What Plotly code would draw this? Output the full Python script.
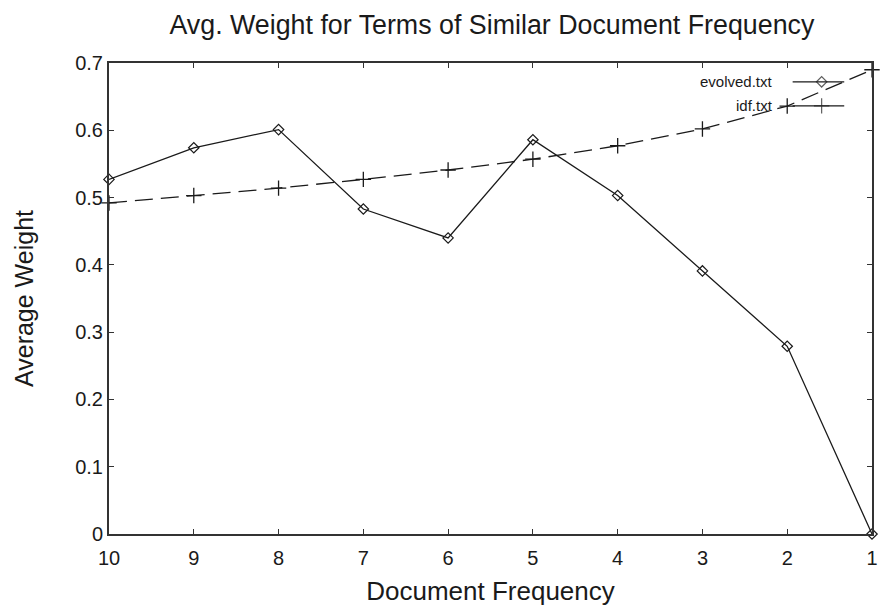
import plotly.graph_objects as go

doc_freq = [10, 9, 8, 7, 6, 5, 4, 3, 2, 1]
evolved = [0.527, 0.574, 0.601, 0.483, 0.440, 0.586, 0.503, 0.391, 0.279, 0.0]
idf = [0.492, 0.503, 0.514, 0.527, 0.541, 0.557, 0.577, 0.602, 0.636, 0.690]
x_ticks = [10, 9, 8, 7, 6, 5, 4, 3, 2, 1]
y_ticks = [0, 0.1, 0.2, 0.3, 0.4, 0.5, 0.6, 0.7]
series_names = ["evolved.txt", "idf.txt"]

FONT = "Liberation Sans, Arial, sans-serif"
INK = "#1a1a1a"

fig = go.Figure()
fig.add_trace(go.Scatter(
    x=doc_freq, y=evolved, name=series_names[0], mode="lines+markers",
    line=dict(color=INK, width=1.3),
    marker=dict(symbol="diamond-open", size=8, color=INK, line=dict(width=1.2)),
    cliponaxis=False, showlegend=False))
fig.add_trace(go.Scatter(
    x=doc_freq, y=idf, name=series_names[1], mode="lines+markers",
    line=dict(color=INK, width=1.3, dash="18px,8px"),
    marker=dict(symbol="cross-thin-open", size=11, color=INK, line=dict(width=1.3, color=INK)),
    cliponaxis=False, showlegend=False))

# custom legend (gnuplot style: text, then sample line with marker)
leg_y = [0.96, 0.909]
for i, (nm, sym, sz) in enumerate([(series_names[0], "diamond-open", 8),
                                     (series_names[1], "cross-thin-open", 11)]):
    fig.add_trace(go.Scatter(
        x=[0.896, 0.934, 0.9636], y=[leg_y[i]] * 3, xaxis="x2", yaxis="y2",
        mode="lines+markers", line=dict(color=INK, width=1.3),
        marker=dict(symbol=sym, size=[0, sz, 0], color=INK, line=dict(width=1.2, color=INK)),
        showlegend=False, hoverinfo="skip", cliponaxis=False))
    fig.add_annotation(x=0.8735, y=leg_y[i], xref="x2", yref="y2", text=nm,
                       showarrow=False, xanchor="right", yanchor="middle",
                       font=dict(family=FONT, size=15, color=INK))

axis_common = dict(showline=True, linecolor="#333333", linewidth=2, mirror="allticks",
                   ticks="inside", ticklen=5, tickcolor="#333333", tickwidth=1.2,
                   showgrid=False, zeroline=False, ticklabeloverflow="allow",
                   automargin=False,
                   tickfont=dict(family=FONT, size=20, color=INK))

fig.update_layout(
    width=880, height=607, paper_bgcolor="white", plot_bgcolor="white",
    margin=dict(l=109, r=8, t=63, b=73),
    title=dict(text="Avg. Weight for Terms of Similar Document Frequency",
               x=0.559, xanchor="center", y=0.959, yanchor="middle",
               font=dict(family=FONT, size=26.8, color=INK)),
    xaxis=dict(range=[10, 1], tickvals=x_ticks, ticktext=[str(v) for v in x_ticks],
               ticklabelstandoff=5,
               title=dict(text="Document Frequency", standoff=14,
                          font=dict(family=FONT, size=26, color=INK)),
               **axis_common),
    yaxis=dict(range=[0, 0.7], tickvals=y_ticks, ticktext=[("0" if v == 0 else f"{v:.1f}") for v in y_ticks],
               title=dict(text="Average Weight", standoff=34,
                          font=dict(family=FONT, size=25, color=INK)),
               **axis_common),
    xaxis2=dict(range=[0, 1], overlaying="x", visible=False, fixedrange=True),
    yaxis2=dict(range=[0, 1], overlaying="y", visible=False, fixedrange=True),
)

fig.write_html("out.html")
